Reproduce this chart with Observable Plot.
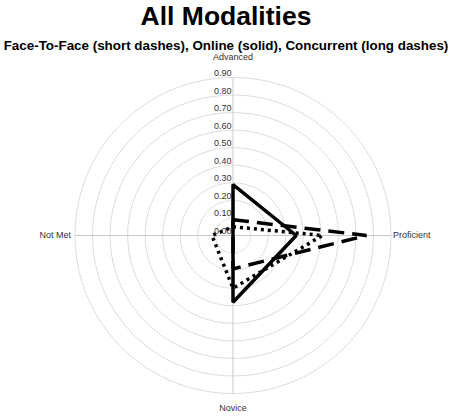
<!DOCTYPE html>
<html>
<head>
<meta charset="utf-8">
<script src="https://cdn.jsdelivr.net/npm/d3@7"></script>
<script src="https://cdn.jsdelivr.net/npm/@observablehq/plot@0.6"></script>
<style>
  html, body { margin: 0; padding: 0; background: #fff; }
  body { width: 452px; height: 416px; overflow: hidden; font-family: "Liberation Sans", Arial, sans-serif; }
  #title { height: 32px; line-height: 32px; font-size: 26.5px; font-weight: bold; text-align: center; color: #000; }
  #subtitle { height: 12px; line-height: 12px; padding-top: 8px; font-size: 13.4px; font-weight: bold; text-align: center; color: #000; white-space: nowrap; }
  #chart svg { display: block; }
</style>
</head>
<body>
<div id="title">All Modalities</div>
<div id="subtitle">Face-To-Face (short dashes), Online (solid), Concurrent (long dashes)</div>
<div id="chart"></div>
<script>
// ---- data ----
const categories = ["Advanced", "Proficient", "Novice", "Not Met"];
const faceToFace = [0.05, 0.51, 0.30, 0.12];
const online = [0.29, 0.36, 0.38, 0.00];
const concurrent = [0.09, 0.76, 0.19, 0.00];
const ringTicks = [0.1, 0.2, 0.3, 0.4, 0.5, 0.6, 0.7, 0.8, 0.9];
const tickLabels = ["0.00", "0.10", "0.20", "0.30", "0.40", "0.50", "0.60", "0.70", "0.80", "0.90"];
const seriesNames = ["Face-To-Face", "Online", "Concurrent"];

// ---- geometry helpers ----
const maxR = 0.9;
const angleOf = i => (i / categories.length) * 2 * Math.PI; // 0 = up, clockwise
const px = (r, a) => r * Math.sin(a);
const py = (r, a) => r * Math.cos(a);

const seriesValues = [faceToFace, online, concurrent];
const styles = {
  "Face-To-Face": {dash: "3,4"},
  "Online": {dash: null},
  "Concurrent": {dash: "16,8"}
};
const points = seriesNames.map((name, s) =>
  categories.map((c, i) => ({series: name, category: c, x: px(seriesValues[s][i], angleOf(i)), y: py(seriesValues[s][i], angleOf(i))}))
);

const ringPts = [];
for (const t of ringTicks) {
  for (let k = 0; k < 180; k++) {
    const a = (k / 180) * 2 * Math.PI;
    ringPts.push({ring: t, x: px(t, a), y: py(t, a)});
  }
}
const spokes = categories.map((c, i) => ({category: c, x2: px(maxR, angleOf(i)), y2: py(maxR, angleOf(i))}));
const tickData = tickLabels.map(s => ({label: s, v: +s}));
const catLabels = categories.map((c, i) => ({category: c, x: px(maxR, angleOf(i)), y: py(maxR, angleOf(i))}));

const W = 452, H = 364, cx = 232.5, cy = 183, R = 158;

const lineMarks = points.map(pts => Plot.line(pts, {
  x: "x", y: "y", curve: "linear-closed",
  stroke: "#000", strokeWidth: 3.5, strokeLinejoin: "miter", strokeLinecap: "butt",
  strokeDasharray: styles[pts[0].series].dash
}));

const labelStyle = {fill: "#333", fontSize: 9};

const chart = Plot.plot({
  width: W, height: H,
  margin: 0,
  x: {domain: [-maxR, maxR], range: [cx - R, cx + R], axis: null},
  y: {domain: [-maxR, maxR], range: [cy + R, cy - R], axis: null},
  style: {fontFamily: "'Liberation Sans', Arial, sans-serif", fontSize: "9px", background: "#fff", overflow: "visible"},
  marks: [
    Plot.line(ringPts, {x: "x", y: "y", z: "ring", curve: "linear-closed", stroke: "#dcdcdc", strokeWidth: 1}),
    Plot.link(spokes, {x1: 0, y1: 0, x2: "x2", y2: "y2", stroke: "#c8c8c8", strokeWidth: 1}),
    Plot.text(tickData, {x: 0, y: "v", text: "label", textAnchor: "end", lineAnchor: "bottom", dx: -1.5, dy: -1.5, ...labelStyle}),
    Plot.text(catLabels.filter(d => d.category === "Advanced"), {x: "x", y: "y", text: "category", textAnchor: "middle", dy: -20, ...labelStyle}),
    Plot.text(catLabels.filter(d => d.category === "Proficient"), {x: "x", y: "y", text: "category", textAnchor: "start", dx: 2, ...labelStyle}),
    Plot.text(catLabels.filter(d => d.category === "Novice"), {x: "x", y: "y", text: "category", textAnchor: "middle", dy: 15, ...labelStyle}),
    Plot.text(catLabels.filter(d => d.category === "Not Met"), {x: "x", y: "y", text: "category", textAnchor: "end", dx: -4, ...labelStyle}),
    ...lineMarks
  ]
});
document.getElementById("chart").appendChild(chart);
</script>
</body>
</html>
